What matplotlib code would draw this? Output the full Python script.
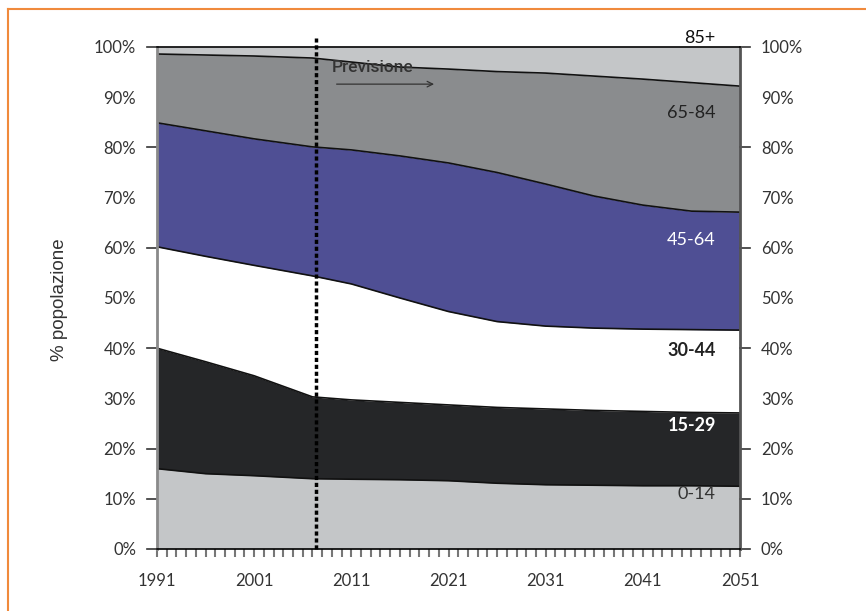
import numpy as np
import matplotlib.pyplot as plt
from matplotlib.lines import Line2D

# Population shares by age group, cumulative upper boundary (%)
years = [1991, 1996, 2001, 2007, 2011, 2016, 2021, 2026, 2031, 2036, 2041, 2046, 2051]
top_0_14 = [16.0, 15.0, 14.6, 14.0, 13.9, 13.8, 13.6, 13.1, 12.8, 12.7, 12.6, 12.6, 12.5]
top_15_29 = [40.0, 37.3, 34.5, 30.3, 29.7, 29.2, 28.7, 28.2, 27.9, 27.6, 27.4, 27.2, 27.1]
top_30_44 = [60.2, 58.3, 56.5, 54.4, 52.8, 50.0, 47.3, 45.3, 44.4, 44.0, 43.8, 43.7, 43.6]
top_45_64 = [84.9, 83.3, 81.7, 80.1, 79.5, 78.3, 76.9, 75.0, 72.7, 70.3, 68.5, 67.3, 67.1]
top_65_84 = [98.6, 98.4, 98.2, 97.8, 97.0, 96.0, 95.6, 95.1, 94.8, 94.2, 93.6, 92.9, 92.2]
top_85 = [100.0] * len(years)

groups = ["0-14", "15-29", "30-44", "45-64", "65-84", "85+"]
colors = ["#c4c6c8", "#252628", "#ffffff", "#4f4f94", "#8a8c8e", "#c4c6c8"]
label_colors = ["#333333", "white", "#222222", "white", "#222222", "#111111"]
label_y = [11.0, 24.5, 39.5, 61.5, 86.9, 101.8]
forecast_start = 2007.4
xlabels = [1991, 2001, 2011, 2021, 2031, 2041, 2051]

font = "Lato"

fig = plt.figure(figsize=(8.66, 6.11), dpi=100)
ax = fig.add_axes([0.1813, 0.1015, 0.6732, 0.8216])

x = np.array(years)
bounds = [np.zeros(len(years)), top_0_14, top_15_29, top_30_44, top_45_64, top_65_84, top_85]
for i in range(len(groups)):
    ax.fill_between(x, bounds[i], bounds[i + 1], color=colors[i], lw=0, zorder=1)
for b in bounds[1:-1]:
    ax.plot(x, b, color="#111111", lw=1.2, zorder=2)

for g, c, yl in zip(groups, label_colors, label_y):
    ax.text(2048.5, yl, g, ha="right", va="center", color=c, fontsize=13,
            family=font, fontweight="bold" if g in ("30-44", "15-29") else "normal",
            clip_on=False, zorder=5)

# forecast marker
ax.plot([forecast_start, forecast_start], [0, 101.8], color="black", lw=2.5,
        ls=(0, (1.2, 0.8)), clip_on=False, zorder=4)
ax.text(2009.0, 96.0, "Previsione", fontsize=12.5, family="Roboto",
        fontweight="medium", color="#333333", va="center", ha="left", zorder=5)
ax.annotate("", xy=(2019.8, 92.6), xytext=(2009.2, 92.6),
            arrowprops=dict(arrowstyle="->", color="#333333", lw=0.9), zorder=5)

ax.set_xlim(1991, 2051)
ax.set_ylim(0, 100)

# x axis: a small tick every year, labels every ten
ax.set_xticks(xlabels)
ax.set_xticklabels([str(v) for v in xlabels], family=font, fontsize=12, color="#333333")
ax.set_xticks(np.arange(1991, 2052), minor=True)
ax.tick_params(axis="x", which="both", length=6, width=1.5, color="#777777",
               direction="out", pad=11)

# y axis on both sides
yt = np.arange(0, 101, 10)
ax.set_yticks(yt)
ax.set_yticklabels([f"{v}%" for v in yt], family=font, fontsize=12, color="#333333")
ax.tick_params(axis="y", which="major", length=0, pad=15, labelright=True)
for v in [0, 10, 20, 40, 60, 80, 100]:
    ax.add_line(Line2D([-0.018, 0], [v / 100, v / 100], transform=ax.transAxes,
                       color="#333333", lw=1.2, clip_on=False))
    ax.add_line(Line2D([1, 1.018], [v / 100, v / 100], transform=ax.transAxes,
                       color="#333333", lw=1.2, clip_on=False))

ax.spines["top"].set_color("black")
ax.spines["top"].set_linewidth(1.2)
ax.spines["bottom"].set_color("black")
ax.spines["bottom"].set_linewidth(1.2)
ax.spines["left"].set_color("#8a8a8a")
ax.spines["left"].set_linewidth(2)
ax.spines["right"].set_color("#555555")
ax.spines["right"].set_linewidth(2)
for s in ax.spines.values():
    s.set_zorder(3)

fig.text(0.069, 0.51, "% popolazione", rotation=90, ha="center", va="center",
         fontsize=13.5, family="Liberation Sans", color="#333333")

# orange frame on top and left
fig.add_artist(Line2D([0.009, 1.0], [0.985, 0.985], color="#f08a3c", lw=1.5))
fig.add_artist(Line2D([0.009, 0.009], [0.0, 0.985], color="#f08a3c", lw=1.5))

fig.savefig("out.png", dpi=100)
